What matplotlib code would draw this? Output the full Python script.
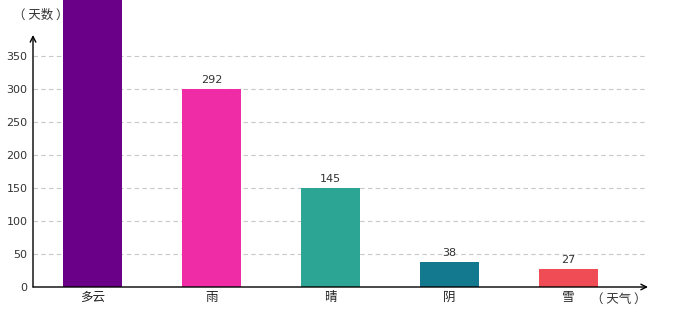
import matplotlib
matplotlib.use("Agg")
import matplotlib.pyplot as plt

plt.rcParams["font.family"] = ["Noto Sans CJK SC", "DejaVu Sans"]

# weather categories and day counts
weather = ["多云", "雨", "晴", "阴", "雪"]
days = [480, 292, 145, 38, 27]
bar_heights = [480, 300, 150, 38, 27]
colors = ["#6a0088", "#f02ba6", "#2ca594", "#13798f", "#f04c55"]
y_ticks = [0, 50, 100, 150, 200, 250, 300, 350]

fig = plt.figure(figsize=(6.8, 3.2), dpi=100)
ax = fig.add_axes([33 / 680, 33 / 320, (648 - 33) / 680, 287 / 320])
ax.set_xlim(-0.5, 4.67)
ax.set_ylim(0, 435)

xs = list(range(len(weather)))
ax.bar(xs, bar_heights, width=0.5, color=colors, zorder=3, clip_on=False)
for x, h, d in zip(xs, bar_heights, days):
    ax.annotate(str(d), (x, h), xytext=(0, 3), textcoords="offset points",
                ha="center", va="bottom", fontsize=8, color="#333333",
                family="DejaVu Sans", annotation_clip=True)

for t in y_ticks[1:]:
    ax.plot([-0.5, 4.65], [t, t], ls=(0, (4, 3)), lw=0.8, color="#c8c8c8", zorder=1)

for s in ax.spines.values():
    s.set_visible(False)
ax.set_yticks(y_ticks)
ax.set_yticklabels([str(t) for t in y_ticks], fontsize=8, color="#333333", family="DejaVu Sans")
ax.set_xticks(xs)
ax.set_xticklabels(weather, fontsize=9, color="#222222")
ax.tick_params(axis="both", length=0)
ax.tick_params(axis="y", pad=4)
ax.tick_params(axis="x", pad=3)

# axis arrows
ax.annotate("", xy=(-0.5, 382), xytext=(-0.5, 0),
            arrowprops=dict(arrowstyle="->", color="black", lw=1, mutation_scale=10,
                            shrinkA=0, shrinkB=0), annotation_clip=False)
ax.annotate("", xy=(4.67, 0), xytext=(-0.5, 0),
            arrowprops=dict(arrowstyle="->", color="black", lw=1, mutation_scale=10,
                            shrinkA=0, shrinkB=0), annotation_clip=False)

fig.text(41 / 680, 1 - 15 / 320, "（ 天数 ）", ha="center", va="center", fontsize=9, color="#333333")
fig.text(619 / 680, 1 - 299 / 320, "（ 天气 ）", ha="center", va="center", fontsize=9, color="#333333")

fig.savefig("out.png", dpi=100)
